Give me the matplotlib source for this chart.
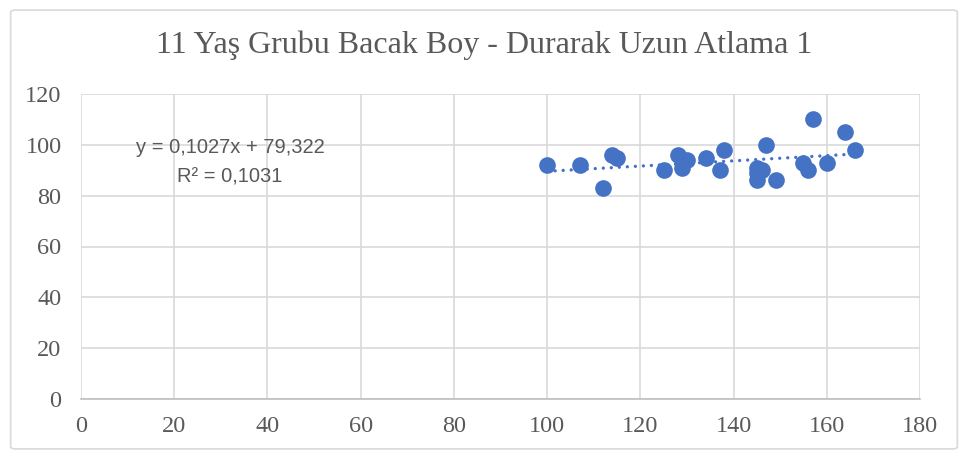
import numpy as np
import matplotlib.pyplot as plt
from matplotlib.patches import FancyBboxPatch

bacak_boy = [100, 107, 112, 114, 115, 125, 128, 129, 130, 134, 137, 138,
             145, 145, 146, 145, 147, 149, 155, 156, 157, 160, 164, 166]
uzun_atlama = [92, 92, 83, 96, 95, 90, 96, 91, 94, 95, 90, 98,
               86, 91, 90, 89, 100, 86, 93, 90, 110, 93, 105, 98]
egim = 0.1027
kesim = 79.322

W, H = 968, 459
fig = plt.figure(figsize=(W / 100, H / 100), dpi=100)
fig.patches.append(FancyBboxPatch((0.011, 0.022), 0.978, 0.956,
                                  boxstyle='round,pad=0,rounding_size=0.005',
                                  transform=fig.transFigure, fill=False,
                                  edgecolor='#D9D9D9', linewidth=1.2))

# plot area in pixels: x 81..920, y 94..399
ax = fig.add_axes([81 / W, 1 - 399 / H, (920 - 81) / W, (399 - 94) / H])
ax.set_xlim(0, 180)
ax.set_ylim(0, 120)
ax.set_xticks(np.arange(0, 181, 20))
ax.set_yticks(np.arange(0, 121, 20))
ax.grid(True, color='#D9D9D9', linewidth=1.2)
ax.set_axisbelow(True)
for s in ['top', 'right', 'left']:
    ax.spines[s].set_visible(False)
ax.spines['bottom'].set_color('#BFBFBF')
ax.spines['bottom'].set_linewidth(1.2)
ax.tick_params(axis='x', length=0, pad=12, labelsize=17.5, labelcolor='#595959')
ax.tick_params(axis='y', length=0, pad=14, labelsize=17.5, labelcolor='#595959')
for lbl in ax.get_xticklabels() + ax.get_yticklabels():
    lbl.set_fontfamily('Liberation Serif')

x = np.array(bacak_boy)
xs = np.array([x.min(), x.max()])
ax.plot(xs, egim * xs + kesim, linestyle=(0, (0.01, 2.4)), color='#4472C4',
        linewidth=2.4, dash_capstyle='round', zorder=2)
ax.plot(bacak_boy, uzun_atlama, 'o', color='#4472C4', markersize=12,
        markeredgewidth=0, zorder=3)

ax.text(32, 98.8, 'y = 0,1027x + 79,322', ha='center', va='center',
        fontsize=14.5, color='#595959', family='Liberation Sans')
ax.text(32, 87.4, 'R² = 0,1031', ha='center', va='center',
        fontsize=14.5, color='#595959', family='Liberation Sans')

fig.text(0.5, 1 - 45 / H, '11 Yaş Grubu Bacak Boy - Durarak Uzun Atlama 1',
         ha='center', va='center', fontsize=23, color='#595959',
         family='Liberation Serif')

fig.savefig('out.png', dpi=100)
